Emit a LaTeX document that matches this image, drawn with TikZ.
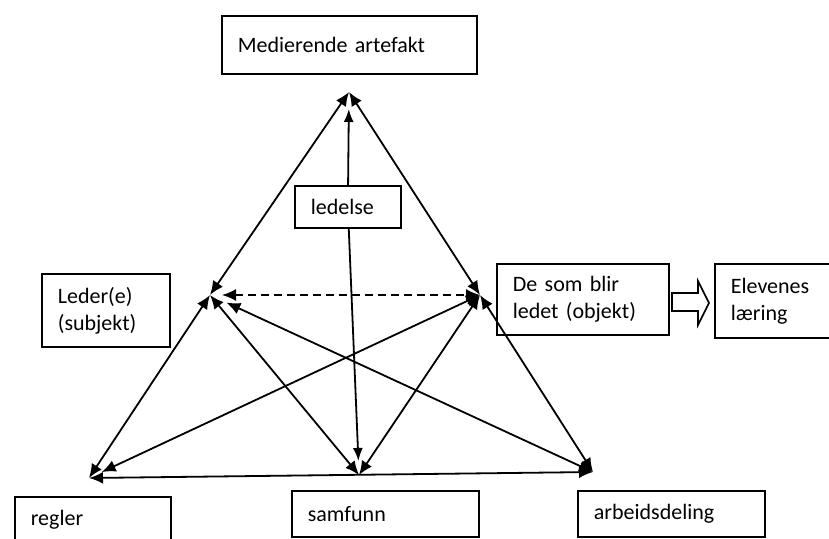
\documentclass[tikz,border=0pt]{standalone}
\usepackage{fontspec}
\setmainfont{Carlito}[WordSpace=0.7]
\usetikzlibrary{arrows.meta}
\begin{document}
\begin{tikzpicture}[x=1pt,y=-1pt,
 boks/.style={draw,line width=1.7pt,anchor=north west,align=left,inner xsep=16pt,inner ysep=0pt,font=\fontsize{22}{27}\selectfont},
 pil/.style={line width=1.8pt,{Latex[length=14pt,width=12pt]}-{Latex[length=14pt,width=12pt]}},
 enpil/.style={line width=1.8pt,-{Latex[length=13pt,width=10pt]}}]
 \useasboundingbox (0,0) rectangle (829,538);
 \clip (0,0) rectangle (829,538);
 \node [boks,text width=223pt,minimum height=58pt] (art) at (221,15) {Medierende artefakt};
 \node [boks,text width=74pt,minimum height=42pt] (led) at (294,185) {ledelse};
 \node [boks,text width=96pt,minimum height=73pt] (sub) at (41,273) {Leder(e)\\(subjekt)};
 \node [boks,text width=140pt,minimum height=71pt] (obj) at (496,263) {De som blir\\ledet (objekt)};
 \node [boks,text width=88pt,minimum height=74pt] (ele) at (714,263) {Elevenes\\læring};
 \node [boks,text width=124pt,minimum height=46pt] (reg) at (14,496) {regler};
 \node [boks,text width=155pt,minimum height=46pt] (sam) at (291,490) {samfunn};
 \node [boks,text width=155pt,minimum height=46pt] (arb) at (577,490) {arbeidsdeling};
 \coordinate (top) at (349,92);
 \coordinate (s) at (210,295);
 \coordinate (o) at (480,295);
 \coordinate (bl) at (89,478);
 \coordinate (bm) at (359,475);
 \coordinate (br) at (593,472);
 \draw [pil] (s) -- (top);
 \draw [pil] (o) -- (top);
 \draw [pil] (bl) -- (s);
 \draw [pil] (br) -- (o);
 \draw [pil,dash pattern=on 8pt off 5pt,shorten <=12pt] (s) -- (o);
 \draw [pil] (s) -- (bm);
 \draw [pil] (o) -- (bm);
 \draw [pil,shorten <=18pt] (s) -- (br);
 \draw [pil,shorten >=14pt] (o) -- (bl);
 \draw [pil] (bl) -- (br);
 \draw [enpil,shorten >=17pt] (led) -- (top);
 \draw [enpil,shorten >=14pt] (led) -- (bm);
 \draw [line width=1.6pt] (672,293) -- (698,293) -- (698,281) -- (709,303) -- (698,325) -- (698,311) -- (672,311) -- cycle;
\end{tikzpicture}
\end{document}
